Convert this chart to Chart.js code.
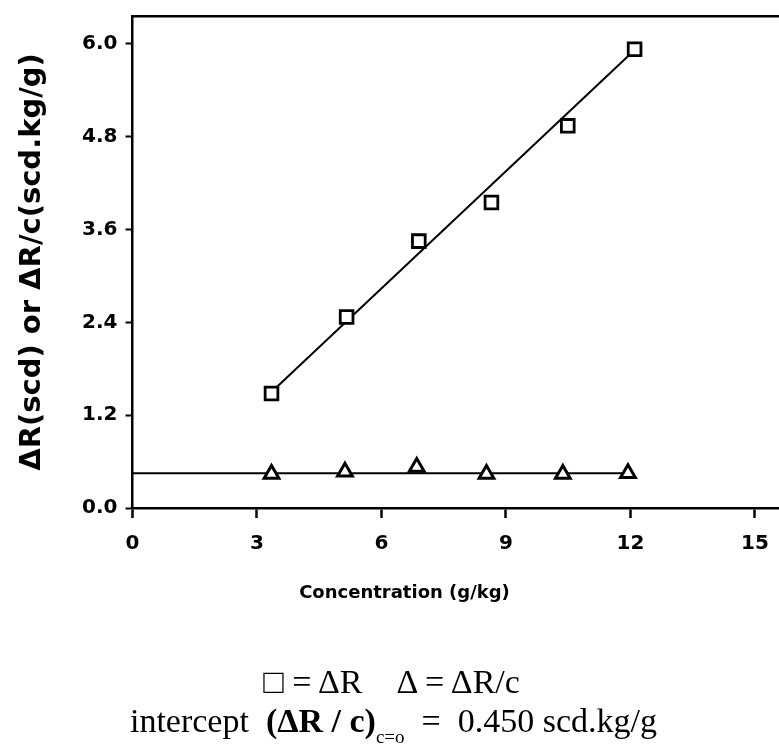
<!DOCTYPE html>
<html><head><meta charset="utf-8">
<script src="https://cdn.jsdelivr.net/npm/chart.js@4/dist/chart.umd.min.js"></script>
<style>
html,body{margin:0;padding:0;background:#fff;}
#wrap{position:relative;width:779px;height:746px;overflow:hidden;}
#c{position:absolute;left:0;top:0;}
.note{position:absolute;left:0;width:779px;text-align:center;font-family:"Liberation Serif","Times New Roman",serif;font-size:34px;line-height:34px;color:#000;white-space:pre;}
.note b{font-weight:bold;}
.note .sub{font-size:19px;position:relative;top:11px;}
</style></head><body>
<div id="wrap">
<canvas id="c" width="779" height="746"></canvas>
<div class="note" style="top:665px;left:2px;">□ = ΔR    Δ = ΔR/c</div>
<div class="note" style="top:704px;left:4px;">intercept  <b>(ΔR / c)</b><span class="sub">c=o</span>  =  0.450 scd.kg/g</div>
</div>
<script>
// ---- data ----
const concSquares   = [3.35, 5.16, 6.9, 8.65, 10.49, 12.1];
const deltaR        = [1.48, 2.47, 3.45, 3.95, 4.94, 5.93];
const concTriangles = [3.35, 5.12, 6.85, 8.53, 10.37, 11.94];
const deltaRperC    = [0.44, 0.47, 0.53, 0.44, 0.44, 0.45];
const fitRX = [3.35, 12.1];
const fitRY = [1.5, 5.92];
const fitCX = [0, 11.94];
const fitCY = [0.45, 0.45];
const xTicks = [0, 3, 6, 9, 12, 15];
const yTicks = [0, 1.2, 2.4, 3.6, 4.8, 6.0];
const xTitle = 'Concentration (g/kg)';
const yTitle = 'ΔR(scd) or ΔR/c(scd.kg/g)';

const pts = (xs, ys) => xs.map((x, i) => ({x, y: ys[i]}));
const black = '#000';
const tickFont = {family: '"DejaVu Sans", sans-serif', size: 20, weight: 'bold'};
const noPad = s => { s.paddingLeft = 0; s.paddingRight = 0; s.paddingTop = 0; s.paddingBottom = 0; };

new Chart(document.getElementById('c'), {
  type: 'scatter',
  data: {
    datasets: [
      {data: pts(concSquares, deltaR), pointStyle: 'rect', pointRadius: 9, borderWidth: 2.8,
       borderColor: black, backgroundColor: '#fff', showLine: false},
      {data: pts(concTriangles, deltaRperC), pointStyle: 'triangle', pointRadius: 8.5, borderWidth: 3,
       borderColor: black, backgroundColor: '#fff', showLine: false},
      {data: pts(fitRX, fitRY), showLine: true, pointRadius: 0, borderWidth: 2, borderColor: black},
      {data: pts(fitCX, fitCY), showLine: true, pointRadius: 0, borderWidth: 2, borderColor: black}
    ]
  },
  options: {
    responsive: false,
    animation: false,
    devicePixelRatio: 1,
    layout: {autoPadding: false, padding: {left: 30, top: 16, right: 0, bottom: 0}},
    plugins: {
      legend: {display: false},
      tooltip: {enabled: false},
      title: {display: true, position: 'bottom', text: xTitle, color: black,
              font: {family: '"DejaVu Sans", sans-serif', size: 18, weight: 'bold'},
              padding: {top: 0, bottom: 142}}
    },
    scales: {
      x: {
        type: 'linear', position: 'bottom', min: 0, max: 15.58,
        afterBuildTicks: s => { s.ticks = xTicks.map(v => ({value: v})); },
        afterFit: s => { s.height = 746 - 142 - 21.6 - 508; noPad(s); },
        border: {display: true, color: black, width: 2.5},
        grid: {drawOnChartArea: false, drawTicks: true, tickLength: 10, tickColor: black, tickWidth: 2.5},
        ticks: {color: black, font: tickFont, padding: 14, callback: v => String(v)}
      },
      xTop: {
        type: 'linear', position: 'top', min: 0, max: 15.58,
        afterFit: s => { s.height = 0; noPad(s); },
        border: {display: true, color: black, width: 2.5},
        grid: {drawOnChartArea: false, drawTicks: false},
        ticks: {display: false}
      },
      y: {
        type: 'linear', position: 'left', min: 0, max: 6.36,
        afterBuildTicks: s => { s.ticks = yTicks.map(v => ({value: v})); },
        afterFit: s => { s.width = 102.5; noPad(s); },
        border: {display: true, color: black, width: 2.5},
        grid: {drawOnChartArea: false, drawTicks: true, tickLength: 7, tickColor: black, tickWidth: 2},
        ticks: {color: black, font: tickFont, padding: 8, callback: v => Number(v).toFixed(1)},
        title: {display: true, text: yTitle, color: black,
                font: {family: '"DejaVu Sans", sans-serif', size: 29, weight: 'bold', lineHeight: 1.2},
                padding: {top: -15, bottom: 0}}
      }
    }
  }
});
</script>
</body></html>
